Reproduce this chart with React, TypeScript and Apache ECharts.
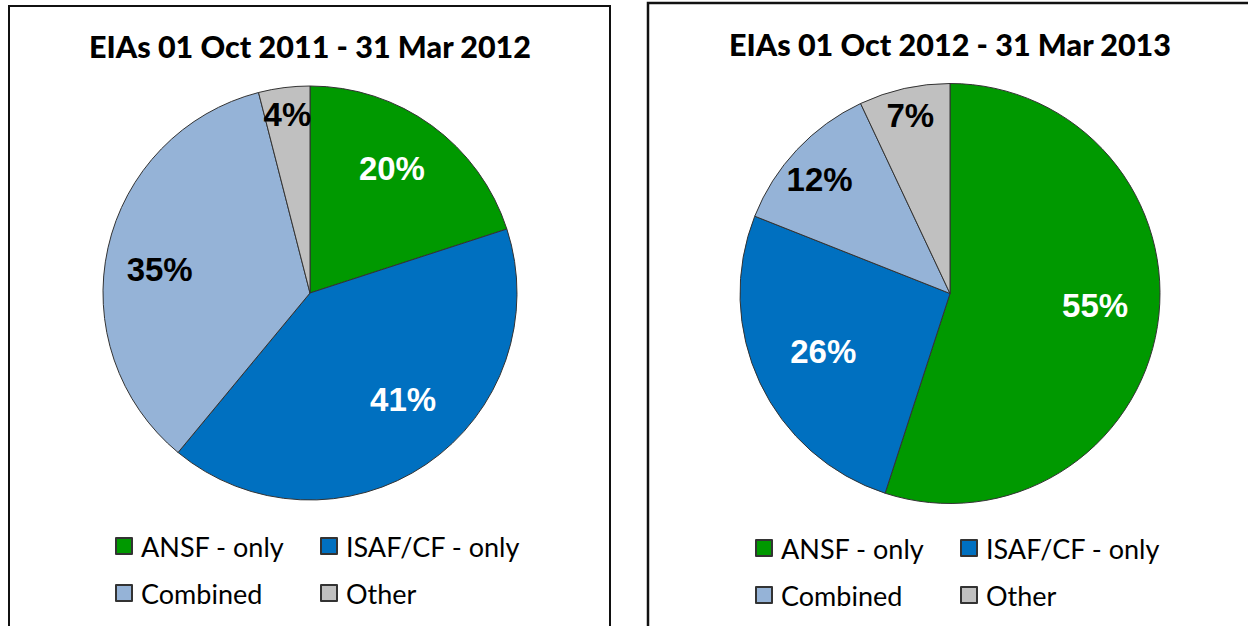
import React, { useEffect, useRef } from "react";
import * as echarts from "echarts";

const categories = ["ANSF - only", "ISAF/CF - only", "Combined", "Other"];
const colors = ["#009900", "#0070C0", "#95B3D7", "#C0C0C0"];
const labelColors = ["#FFFFFF", "#FFFFFF", "#000000", "#000000"];
const values2012 = [20, 41, 35, 4];
const values2013 = [55, 26, 12, 7];
const titles = ["EIAs 01 Oct 2011 - 31 Mar 2012", "EIAs 01 Oct 2012 - 31 Mar 2013"];

// small label nudges (style), per slice
const nudgeLeft = [[-5, -5], [10, -16], [-6, 9], [-4, -32]];
const nudgeRight = [[-3, -11], [9, -6], [-21, -11], [-7, -32]];

function buildData(values: number[]) {
  return categories.map((name, i) => ({
    name,
    value: values[i],
    itemStyle: { color: colors[i] },
  }));
}

function buildLabelData(values: number[]) {
  return categories.map((name, i) => ({
    name,
    value: values[i],
    label: { color: labelColors[i] },
  }));
}

export default function App() {
  const ref = useRef<HTMLDivElement>(null);
  useEffect(() => {
    document.body.style.margin = "0";
    const chart = echarts.init(ref.current!, null, { renderer: "svg" });
    const L = { cx: 310, cy: 293, r: 207 };
    const R = { cx: 950, cy: 293.5, r: 210 };
    const pieBase = (c: any, values: number[]) => ({
      type: "pie",
      center: [c.cx, c.cy],
      radius: [0, c.r],
      startAngle: 90,
      clockwise: true,
      avoidLabelOverlap: false,
      label: { show: false },
      labelLine: { show: false },
      itemStyle: { borderColor: "#333333", borderWidth: 1 },
      emphasis: { disabled: true },
      data: buildData(values),
    });
    const labelSeries = (c: any, values: number[], nudge: number[][]) => ({
      type: "pie",
      center: [c.cx, c.cy],
      radius: [c.r * 0.4, c.r],
      startAngle: 90,
      clockwise: true,
      silent: true,
      legendHoverLink: false,
      avoidLabelOverlap: false,
      itemStyle: { color: "rgba(0,0,0,0)", borderWidth: 0 },
      label: {
        show: true,
        position: "inside",
        formatter: "{c}%",
        fontFamily: "Liberation Sans",
        fontWeight: "bold",
        fontSize: 33,
      },
      labelLine: { show: false },
      labelLayout: (p: any) => ({ dx: nudge[p.dataIndex][0], dy: nudge[p.dataIndex][1] }),
      emphasis: { disabled: true },
      data: buildLabelData(values),
    });
    const legendBase = (left: number, top: number, names: string[]) => ({
      orient: "vertical",
      left,
      top,
      padding: 0,
      data: names,
      icon: "rect",
      itemWidth: 16,
      itemHeight: 16,
      itemGap: 17,
      selectedMode: false,
      textStyle: {
        fontFamily: "Lato",
        fontSize: 27,
        color: "#000",
        lineHeight: 30,
        padding: [0, 0, 0, 4],
      },
    });
    const titleStyle = { fontFamily: "Lato", fontWeight: 900, fontSize: 30.5, color: "#000" };
    chart.setOption({
      animation: false,
      title: [
        { text: titles[0], left: 305, top: 25, textAlign: "center", textStyle: titleStyle },
        { text: titles[1], left: 945, top: 23, textAlign: "center", textStyle: titleStyle },
      ],
      legend: [
        legendBase(115, 531, [categories[0], categories[2]]),
        legendBase(320, 531, [categories[1], categories[3]]),
        legendBase(755, 533, [categories[0], categories[2]]),
        legendBase(960, 533, [categories[1], categories[3]]),
      ],
      graphic: [
        {
          type: "rect",
          shape: { x: 9, y: 6, width: 601, height: 700 },
          style: { fill: "none", stroke: "#111", lineWidth: 2 },
          silent: true,
        },
        {
          type: "rect",
          shape: { x: 648, y: 3, width: 700, height: 700 },
          style: { fill: "none", stroke: "#111", lineWidth: 2.5 },
          silent: true,
        },
      ],
      series: [
        pieBase(L, values2012),
        pieBase(R, values2013),
        labelSeries(L, values2012, nudgeLeft),
        labelSeries(R, values2013, nudgeRight),
      ],
    });
    return () => chart.dispose();
  }, []);
  return <div ref={ref} style={{ width: 1248, height: 626 }} />;
}
